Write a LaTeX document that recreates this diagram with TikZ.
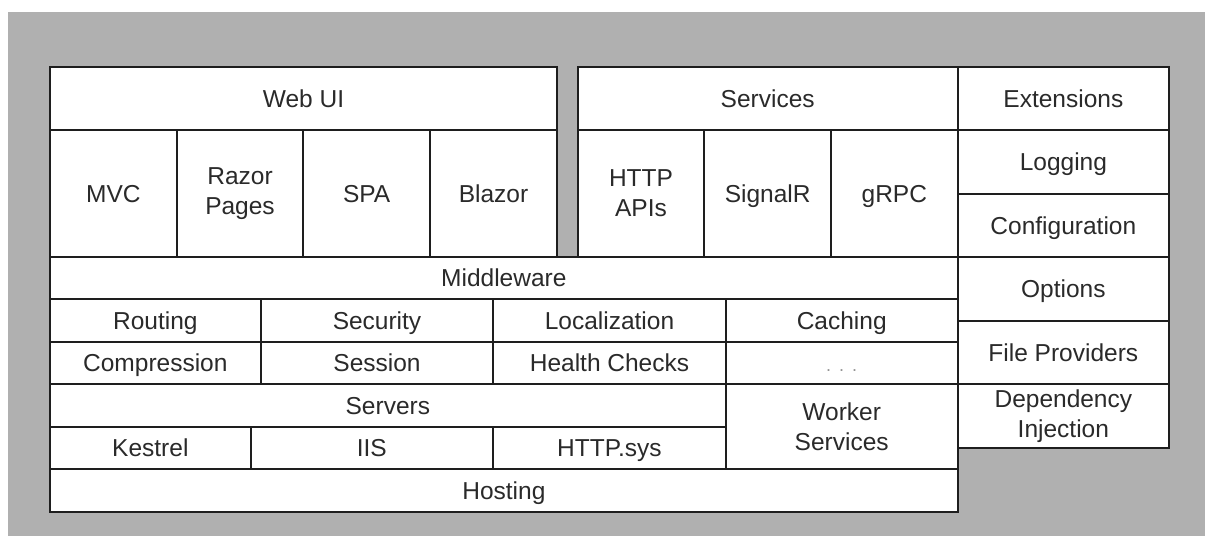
\documentclass[tikz,border=0pt]{standalone}
\usepackage{fontspec}
\setmainfont{Liberation Sans}
\definecolor{bggray}{HTML}{B0B0B0}
\definecolor{txt}{HTML}{2A2A2A}
\definecolor{edge}{HTML}{1E1E1E}
\tikzset{
  cellbase/.style={draw=edge, line width=2pt, fill=white, inner sep=0pt, outer sep=0pt,
    align=center, text=txt, font=\fontsize{24.5}{30}\selectfont},
  cell/.style={cellbase, text height=22.8pt, text depth=5.2pt},
  twoline/.style={cellbase},
  dotcell/.style={cell, text=gray!85}
}
\newcommand\cellnode[7][cell]{%
  \pgfmathsetmacro\cw{#5-#3}\pgfmathsetmacro\ch{#6-#4}%
  \pgfmathsetmacro\cx{(#3+#5)/2}\pgfmathsetmacro\cy{(#4+#6)/2}%
  \node[#1, minimum width=\cw pt, minimum height=\ch pt] (#2) at (\cx,\cy) {#7};}
\begin{document}
\begin{tikzpicture}[x=1pt,y=-1pt]
\useasboundingbox (0,0) rectangle (1205,536);
\fill[white] (0,0) rectangle (1205,536);
\fill[bggray] (8,12) rectangle (1205,536);
% Web UI block
\cellnode{webui}{50}{66.5}{557}{130}{Web UI}
\cellnode{mvc}{50}{130}{176.7}{257}{MVC}
\cellnode[twoline]{razor}{176.7}{130}{303.3}{257}{Razor\\Pages}
\cellnode{spa}{303.3}{130}{430}{257}{SPA}
\cellnode{blazor}{430}{130}{557}{257}{Blazor}
% Services block
\cellnode{services}{577.7}{66.5}{957.7}{130}{Services}
\cellnode[twoline]{http}{577.7}{130}{704.3}{257}{HTTP\\APIs}
\cellnode{signalr}{704.3}{130}{831}{257}{SignalR}
\cellnode{grpc}{831}{130}{957.7}{257}{gRPC}
% Extensions column
\cellnode{ext}{957.7}{66.5}{1169}{130}{Extensions}
\cellnode{log}{957.7}{130}{1169}{194}{Logging}
\cellnode{conf}{957.7}{194}{1169}{257}{Configuration}
\cellnode{opt}{957.7}{257}{1169}{321}{Options}
\cellnode{fp}{957.7}{321}{1169}{384.3}{File Providers}
\cellnode[twoline]{di}{957.7}{384.3}{1169}{448}{Dependency\\Injection}
% Middleware
\cellnode{mw}{50}{257}{957.7}{299.3}{Middleware}
\cellnode{routing}{50}{299.3}{260.7}{341.7}{Routing}
\cellnode{security}{260.7}{299.3}{493.3}{341.7}{Security}
\cellnode{loc}{493.3}{299.3}{725.7}{341.7}{Localization}
\cellnode{caching}{725.7}{299.3}{957.7}{341.7}{Caching}
\cellnode{comp}{50}{341.7}{260.7}{384.3}{Compression}
\cellnode{session}{260.7}{341.7}{493.3}{384.3}{Session}
\cellnode{health}{493.3}{341.7}{725.7}{384.3}{Health Checks}
\cellnode[dotcell]{more}{725.7}{341.7}{957.7}{384.3}{{\fontsize{18}{20}\selectfont .\hspace{8pt}.\hspace{8pt}.}}
% Servers
\cellnode{servers}{50}{384.3}{725.7}{426.7}{Servers}
\cellnode{kestrel}{50}{426.7}{250.7}{469.3}{Kestrel}
\cellnode{iis}{250.7}{426.7}{493}{469.3}{IIS}
\cellnode{httpsys}{493}{426.7}{725.7}{469.3}{HTTP.sys}
\cellnode[twoline]{worker}{725.7}{384.3}{957.7}{469.3}{Worker\\Services}
% Hosting
\cellnode{hosting}{50}{469.3}{957.7}{511.7}{Hosting}
\end{tikzpicture}
\end{document}
